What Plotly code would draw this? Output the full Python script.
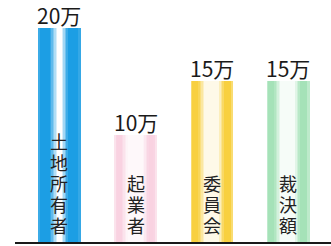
import numpy as np
import plotly.graph_objects as go

categories = ["土地所有者", "起業者", "委員会", "裁決額"]
values = [20, 10, 15, 15]
value_labels = ["20万", "10万", "15万", "15万"]

# ---- styling ----
edge_rgb = [(28, 158, 228), (246, 186, 210), (248, 208, 64), (150, 222, 172)]
profiles = [
    ([0, 0.04, 0.28, 0.48, 0.56, 0.72, 0.96, 1], [0.75, 1, 1, 0.0, 0.0, 1, 1, 0.8]),
    ([0, 0.06, 0.16, 0.32, 0.68, 0.82, 0.94, 1], [0.3, 0.65, 0.65, 0.1, 0.1, 0.65, 0.65, 0.3]),
    ([0, 0.05, 0.17, 0.34, 0.66, 0.8, 0.95, 1], [0.6, 1, 1, 0.12, 0.12, 1, 1, 0.6]),
    ([0, 0.05, 0.17, 0.34, 0.66, 0.8, 0.95, 1], [0.5, 0.85, 0.85, 0.08, 0.08, 0.85, 0.85, 0.5]),
]
N = 28
W = 0.55

fig = go.Figure()
for k in range(N):
    t = (k + 0.5) / N
    cols = []
    for (r, g, b), (tk, ik) in zip(edge_rgb, profiles):
        I = float(np.interp(t, tk, ik))
        cols.append("rgb(%d,%d,%d)" % (255 - (255 - r) * I, 255 - (255 - g) * I, 255 - (255 - b) * I))
    fig.add_trace(go.Bar(
        x=categories, y=values,
        offset=-W / 2 + k * W / N, width=W / N * 1.08,
        marker=dict(color=cols, line=dict(width=0)),
        hoverinfo="skip", showlegend=False,
    ))

annotations = []
for cat, v, lab in zip(categories, values, value_labels):
    annotations.append(dict(
        x=cat, y=v, xref="x", yref="y", text=lab, showarrow=False,
        yanchor="bottom", yshift=-4,
        font=dict(family="Noto Sans CJK JP", size=21, color="#1a1a1a"),
    ))
    chars = list(cat)
    n = len(chars)
    for i, ch in enumerate(chars):
        annotations.append(dict(
            x=cat, y=0, xref="x", yref="y", text=ch, showarrow=False,
            yanchor="middle", yshift=17.5 + 20.8 * (n - 1 - i),
            font=dict(family="Noto Sans CJK JP", size=18, color="#222222"),
        ))

fig.update_layout(
    width=331, height=246,
    margin=dict(l=15, r=0, t=0, b=4),
    paper_bgcolor="white", plot_bgcolor="white",
    barmode="overlay", bargap=0,
    annotations=annotations,
    xaxis=dict(range=[-0.583, 3.558], showticklabels=False, showgrid=False,
               zeroline=False, showline=True, linecolor="#1a1a1a", linewidth=2, ticks=""),
    yaxis=dict(range=[0, 22.6], visible=False, showgrid=False, zeroline=False),
)

fig.write_html("out.html", config={"displayModeBar": False},
               post_script="document.body.style.margin='0';")
